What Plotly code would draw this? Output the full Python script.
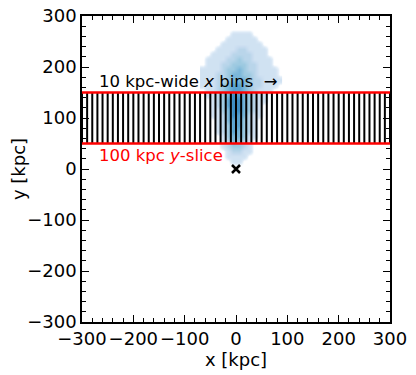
import numpy as np
import plotly.graph_objects as go

# slice / bin setup
slice_lo = 50
slice_hi = 150
bin_edges = list(range(-300, 301, 10))

# density cloud (counts per 10x10 kpc cell)
cloud_x = [-65, -55, -45, -35, -25, -15, -5, 5, 15, 25, 35, 45, 55, 65, 75, 85]
cloud_y = [5, 15, 25, 35, 45, 55, 65, 75, 85, 95, 105, 115, 125,
           135, 145, 155, 165, 175, 185, 195, 205, 215, 225, 235, 245, 255, 265, 275]
cloud_z = [
    [0, 0, 0, 0, 0, 0, 0, 0, 0, 0, 0, 0, 0, 0, 0, 0],
    [0, 0, 0, 0, 0, 0, 1, 1, 0, 0, 0, 0, 0, 0, 0, 0],
    [0, 0, 0, 0, 0, 1, 1, 1, 1, 0, 0, 0, 0, 0, 0, 0],
    [0, 0, 0, 0, 0, 1, 2, 2, 1, 1, 0, 0, 0, 0, 0, 0],
    [0, 0, 0, 0, 1, 2, 3, 3, 2, 1, 0, 0, 0, 0, 0, 0],
    [0, 0, 0, 0, 1, 2, 4, 3, 2, 1, 0, 0, 0, 0, 0, 0],
    [0, 0, 0, 0, 1, 3, 4, 4, 3, 1, 1, 0, 0, 0, 0, 0],
    [0, 0, 0, 1, 2, 3, 5, 4, 3, 2, 1, 0, 0, 0, 0, 0],
    [0, 0, 0, 1, 2, 3, 5, 5, 3, 2, 1, 0, 0, 0, 0, 0],
    [0, 0, 0, 1, 2, 4, 5, 5, 3, 2, 1, 0, 0, 0, 0, 0],
    [0, 0, 1, 1, 2, 4, 6, 5, 4, 2, 1, 1, 0, 0, 0, 0],
    [0, 0, 1, 1, 3, 4, 6, 6, 4, 3, 2, 1, 0, 0, 0, 0],
    [0, 0, 1, 2, 3, 5, 6, 6, 4, 3, 2, 1, 0, 0, 0, 0],
    [0, 0, 1, 2, 3, 5, 6, 6, 4, 3, 2, 1, 1, 0, 0, 0],
    [0, 1, 1, 2, 3, 4, 6, 5, 4, 3, 2, 1, 1, 0, 0, 0],
    [0, 1, 1, 2, 3, 4, 5, 5, 4, 3, 2, 1, 1, 1, 0, 0],
    [1, 1, 1, 2, 3, 4, 5, 5, 4, 3, 2, 2, 1, 1, 1, 0],
    [1, 1, 1, 2, 2, 3, 4, 4, 4, 3, 2, 2, 1, 1, 1, 1],
    [1, 1, 1, 2, 2, 3, 4, 4, 3, 3, 2, 1, 1, 1, 1, 0],
    [1, 1, 1, 1, 2, 3, 3, 4, 3, 2, 2, 1, 1, 1, 1, 0],
    [0, 1, 1, 1, 2, 2, 3, 3, 3, 2, 2, 1, 1, 1, 0, 0],
    [0, 1, 1, 1, 1, 2, 2, 3, 2, 2, 1, 1, 1, 1, 0, 0],
    [0, 0, 1, 1, 1, 1, 2, 2, 2, 2, 1, 1, 1, 0, 0, 0],
    [0, 0, 0, 1, 1, 1, 1, 2, 2, 1, 1, 1, 1, 0, 0, 0],
    [0, 0, 0, 0, 1, 1, 1, 1, 1, 1, 1, 1, 0, 0, 0, 0],
    [0, 0, 0, 0, 0, 1, 1, 1, 1, 1, 1, 0, 0, 0, 0, 0],
    [0, 0, 0, 0, 0, 0, 1, 1, 1, 1, 0, 0, 0, 0, 0, 0],
    [0, 0, 0, 0, 0, 0, 0, 0, 0, 0, 0, 0, 0, 0, 0, 0],
]

blues = [
    [0.0, 'rgba(255,255,255,0)'],
    [0.04, 'rgba(222,235,247,0.7)'],
    [0.08, '#d8e7f5'],
    [0.2, '#c6dbef'],
    [0.4, '#9ecae1'],
    [0.6, '#6aaed6'],
    [0.8, '#3d8dc4'],
    [1.0, '#1764ab'],
]

font = 'DejaVu Sans'

fig = go.Figure()

fig.add_trace(go.Heatmap(
    x=cloud_x, y=cloud_y, z=cloud_z,
    colorscale=blues, zmin=0, zmax=7.5,
    zsmooth='best', showscale=False, hoverinfo='skip'
))

# vertical bin lines inside the slice
vx, vy = [], []
for e in bin_edges:
    vx += [e, e, None]
    vy += [slice_lo, slice_hi, None]
fig.add_trace(go.Scatter(
    x=vx, y=vy, mode='lines',
    line=dict(color='black', width=2), showlegend=False
))

# slice boundaries
for yy in [slice_lo, slice_hi]:
    fig.add_trace(go.Scatter(
        x=[bin_edges[0], bin_edges[-1]], y=[yy, yy], mode='lines',
        line=dict(color='red', width=2.5), showlegend=False
    ))

# centre marker
fig.add_trace(go.Scatter(
    x=[0], y=[0], mode='markers',
    marker=dict(symbol='x-thin', size=8, line=dict(color='black', width=2.5)),
    showlegend=False
))

fig.add_annotation(
    x=-271, y=172, xref='x', yref='y', xanchor='left', yanchor='middle',
    text='10 kpc-wide <i>x</i> bins  \u2192', showarrow=False,
    font=dict(family=font, size=16.5, color='black')
)
fig.add_annotation(
    x=-271, y=27, xref='x', yref='y', xanchor='left', yanchor='middle',
    text='100 kpc <i>y</i>-slice', showarrow=False,
    font=dict(family=font, size=16.5, color='red')
)

axis_style = dict(
    range=[-300, 300], dtick=100, tick0=0, tickangle=0,
    showgrid=False, zeroline=False, automargin=False,
    showline=True, linecolor='black', linewidth=1.5, mirror='allticks',
    ticks='inside', ticklen=7, tickwidth=1.2, tickcolor='black',
    minor=dict(dtick=20, ticks='inside', ticklen=4, tickcolor='black', tickwidth=1),
    tickfont=dict(family=font, size=18, color='black'),
)

fig.update_xaxes(**axis_style, title=dict(text='x [kpc]', font=dict(family=font, size=18, color='black'), standoff=2))
fig.update_yaxes(**axis_style, title=dict(text='y [kpc]', font=dict(family=font, size=18, color='black'), standoff=4))

# the page adds an 8 px body margin, so the figure is shrunk to fit
fig.update_layout(
    width=408, height=367,
    margin=dict(l=74, r=26, t=8, b=53),
    plot_bgcolor='white', paper_bgcolor='white',
    showlegend=False,
)

fig.write_html("out.html")
